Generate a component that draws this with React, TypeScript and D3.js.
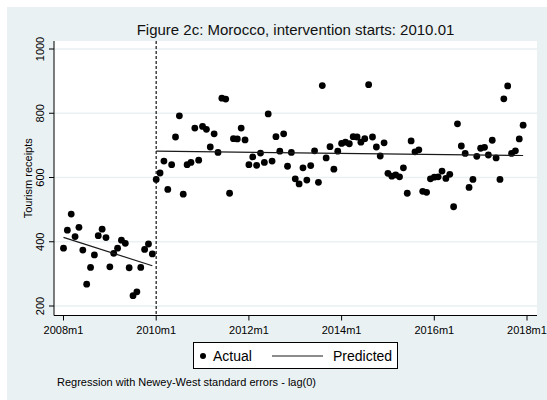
import React from "react";
import * as d3 from "d3";

// Monthly tourism receipts, Morocco, 2008m1 .. 2017m12 (one value per month)
const receipts: number[] = [
  // 2008
  380, 436, 486, 416, 445, 374, 268, 320, 359, 419, 439, 413,
  // 2009
  322, 364, 380, 405, 395, 319, 232, 244, 320, 376, 393, 362,
  // 2010
  594, 614, 651, 563, 640, 726, 792, 548, 640, 647, 754, 654,
  // 2011
  759, 750, 695, 736, 678, 847, 844, 551, 721, 720, 754, 717,
  // 2012
  640, 664, 638, 676, 647, 798, 651, 727, 682, 736, 635, 678,
  // 2013
  596, 580, 630, 592, 637, 683, 585, 886, 661, 696, 626, 682,
  // 2014
  706, 710, 705, 727, 726, 710, 721, 889, 726, 695, 667, 708,
  // 2015
  613, 604, 608, 602, 630, 551, 714, 680, 686, 557, 554, 596,
  // 2016
  601, 602, 620, 597, 610, 509, 767, 698, 675, 569, 594, 666,
  // 2017
  691, 694, 670, 716, 661, 594, 845, 885, 675, 683, 720, 763,
];

// Month index (0 = 2008m1) at which the intervention begins: 2010m1
const interventionMonth = 24;

const xTickMonths: number[] = [0, 24, 48, 72, 96, 120];
const xTickLabels: string[] = ["2008m1", "2010m1", "2012m1", "2014m1", "2016m1", "2018m1"];
const yTicks: number[] = [200, 400, 600, 800, 1000];

const titleText = "Figure 2c: Morocco, intervention starts: 2010.01";
const yTitle = "Tourism receipts";
const noteText = "Regression with Newey-West standard errors - lag(0)";

const FONT = "'Liberation Sans', Arial, Helvetica, sans-serif";

type Pt = { m: number; v: number };

// Ordinary least squares fit of value on month for one segment
function fitSegment(points: Pt[]): Pt[] {
  const mx = d3.mean(points, (p) => p.m) as number;
  const my = d3.mean(points, (p) => p.v) as number;
  let sxy = 0;
  let sxx = 0;
  for (const p of points) {
    sxy += (p.m - mx) * (p.v - my);
    sxx += (p.m - mx) * (p.m - mx);
  }
  const slope = sxy / sxx;
  const first = points[0].m;
  const last = points[points.length - 1].m;
  return [
    { m: first, v: my + slope * (first - mx) },
    { m: last, v: my + slope * (last - mx) },
  ];
}

export default function App() {
  const W = 547;
  const H = 400;
  const plot = { left: 54, right: 537, top: 41, bottom: 315.5 };

  const x = d3.scaleLinear().domain([0, 120]).range([63.5, 527]);
  const y = d3.scaleLinear().domain([200, 1000]).range([306, 49]);

  const points: Pt[] = receipts.map((v, m) => ({ m, v }));
  const pre = points.filter((p) => p.m < interventionMonth);
  const post = points.filter((p) => p.m >= interventionMonth);
  const fits = [fitSegment(pre), fitSegment(post)];

  const line = d3
    .line<Pt>()
    .x((p) => x(p.m))
    .y((p) => y(p.v));

  const cx = (plot.left + plot.right) / 2;
  const cy = (plot.top + plot.bottom) / 2;

  return (
    <svg
      width={W}
      height={H}
      viewBox={`0 0 ${W} ${H}`}
      style={{ position: "fixed", left: 0, top: 0, display: "block" }}
      fontFamily={FONT}
    >
      <rect x={0} y={0} width={W} height={H} fill="#ffffff" />
      {/* graph region */}
      <rect x={7} y={7} width={W - 7} height={H - 7} fill="#eaf1f3" />
      {/* plot region */}
      <rect
        x={plot.left}
        y={plot.top}
        width={plot.right - plot.left}
        height={plot.bottom - plot.top}
        fill="#ffffff"
      />

      {/* horizontal grid */}
      {yTicks.map((t) => (
        <line
          key={`g${t}`}
          x1={plot.left}
          x2={plot.right}
          y1={y(t)}
          y2={y(t)}
          stroke="#e9f1f3"
          strokeWidth={1.5}
        />
      ))}

      {/* intervention marker */}
      <line
        x1={x(interventionMonth)}
        x2={x(interventionMonth)}
        y1={plot.top}
        y2={plot.bottom}
        stroke="#333333"
        strokeWidth={1.4}
        strokeDasharray="3,2"
      />

      {/* observed values */}
      {points.map((p) => (
        <circle key={`p${p.m}`} cx={x(p.m)} cy={y(p.v)} r={3.4} fill="#000000" />
      ))}

      {/* fitted segments */}
      {fits.map((seg, i) => (
        <path key={`f${i}`} d={line(seg) as string} fill="none" stroke="#1a1a1a" strokeWidth={1.2} />
      ))}

      {/* y axis */}
      <line x1={plot.left} x2={plot.left} y1={plot.top} y2={plot.bottom} stroke="#000" strokeWidth={1} />
      {yTicks.map((t) => (
        <g key={`yt${t}`}>
          <line x1={plot.left - 5} x2={plot.left} y1={y(t)} y2={y(t)} stroke="#000" strokeWidth={1} />
          <text
            transform={`translate(43.5, ${y(t)}) rotate(-90)`}
            textAnchor="middle"
            fontSize={11}
            fill="#000"
          >
            {t}
          </text>
        </g>
      ))}
      <text
        transform={`translate(32, ${cy}) rotate(-90)`}
        textAnchor="middle"
        fontSize={11}
        fill="#000"
      >
        {yTitle}
      </text>

      {/* x axis */}
      <line x1={plot.left} x2={plot.right} y1={plot.bottom} y2={plot.bottom} stroke="#000" strokeWidth={1} />
      {xTickMonths.map((m, i) => (
        <g key={`xt${m}`}>
          <line x1={x(m)} x2={x(m)} y1={plot.bottom} y2={plot.bottom + 5} stroke="#000" strokeWidth={1} />
          <text x={x(m)} y={333.5} textAnchor="middle" fontSize={11} fill="#000">
            {xTickLabels[i]}
          </text>
        </g>
      ))}

      {/* title */}
      <text x={cx} y={35} textAnchor="middle" fontSize={15} fill="#111">
        {titleText}
      </text>

      {/* legend */}
      <rect x={193.5} y={342.5} width={204} height={26} fill="#ffffff" stroke="#000" strokeWidth={1} />
      <circle cx={203} cy={356} r={3} fill="#000" />
      <text x={213} y={361} fontSize={14} fill="#000">
        Actual
      </text>
      <line x1={272} x2={323} y1={356} y2={356} stroke="#1a1a1a" strokeWidth={1.2} />
      <text x={333} y={361} fontSize={14} fill="#000">
        Predicted
      </text>

      {/* note */}
      <text x={57} y={386} fontSize={11} fill="#000">
        {noteText}
      </text>
    </svg>
  );
}
